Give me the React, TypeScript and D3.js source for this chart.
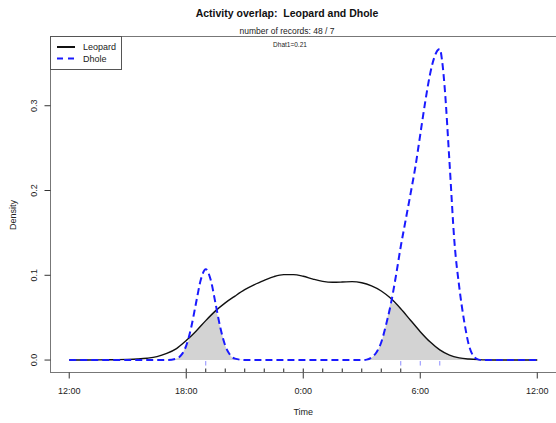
import React from 'react'
import * as d3 from 'd3'

// density curves (hours relative to midnight)
const leopardHours = [
  -12, -11.5, -11, -10.5, -10, -9.5, -9, -8.5, -8, -7.5, -7, -6.5, -6, -5.5, -5, -4.5, -4, -3.5, -3, -2.5,
  -2, -1.5, -1, -0.5, 0, 0.5, 1, 1.5, 2, 2.5, 3, 3.5, 4, 4.5, 5, 5.5, 6, 6.5, 7, 7.5, 8, 8.5, 9, 9.5, 10,
  10.5, 11, 11.5, 12,
]
const leopardDensity = [
  0, 0, 0.0001, 0.0002, 0.0003, 0.0005, 0.0008, 0.0013, 0.0022, 0.004, 0.0078, 0.0135, 0.023, 0.034, 0.0465,
  0.058, 0.0675, 0.0755, 0.083, 0.089, 0.094, 0.0985, 0.1008, 0.1008, 0.0988, 0.0955, 0.0928, 0.0917, 0.092,
  0.0925, 0.0912, 0.0875, 0.0815, 0.0725, 0.0605, 0.047, 0.0335, 0.0215, 0.012, 0.0058, 0.0026, 0.0012, 0.0005,
  0.0002, 0.0001, 0, 0, 0, 0,
]
const dholeHours = [
  -12, -7.5, -7, -6.5, -6.25, -6, -5.75, -5.5, -5.25, -5, -4.75, -4.5, -4.25, -4, -3.75, -3.5, -3, -2.5,
  2.5, 3, 3.25, 3.5, 3.75, 4, 4.25, 4.5, 4.75, 5, 5.25, 5.5, 5.75, 6, 6.25, 6.5, 6.75, 6.875, 7, 7.125,
  7.25, 7.5, 7.75, 8, 8.25, 8.5, 8.75, 9, 9.25, 9.75, 12,
]
const dholeDensity = [
  0, 0, 0, 0.0017, 0.006, 0.017, 0.038, 0.067, 0.095, 0.107, 0.095, 0.067, 0.038, 0.017, 0.006, 0.0017, 0, 0,
  0, 0, 0.0005, 0.003, 0.009, 0.021, 0.042, 0.067, 0.099, 0.134, 0.165, 0.196, 0.228, 0.266, 0.304, 0.337,
  0.359, 0.365, 0.367, 0.352, 0.322, 0.233, 0.14, 0.086, 0.046, 0.017, 0.004, 0.0005, 0, 0, 0,
]
const leopardRug = [-6, -5, -4, -3, -2, -1, 0, 1, 2, 3, 4, 5]
const dholeRug = [-5, 5, 6, 7]
const timeTicks = [-12, -6, 0, 6, 12]
const timeLabels = ['12:00', '18:00', '0:00', '6:00', '12:00']
const densityTicks = [0, 0.1, 0.2, 0.3]
const speciesNames = ['Leopard', 'Dhole']
const recordCounts = [48, 7]
const dhat1 = 0.21

const W = 556
const H = 423
const font = '"Liberation Sans", Arial, Helvetica, sans-serif'

export default function App() {
  const plot = { left: 50.5, right: 556, top: 36.5, bottom: 372.5 }

  const x = d3.scaleLinear().domain([-12.96, 12.96]).range([plot.left, plot.right])
  const ymax = d3.max([...leopardDensity, ...dholeDensity]) as number
  const pad = ymax * 0.04
  const y = d3.scaleLinear().domain([-pad, ymax + pad]).range([plot.bottom, plot.top])

  const leopardPts: [number, number][] = leopardHours.map((h, i) => [h, leopardDensity[i]])
  const dholePts: [number, number][] = dholeHours.map((h, i) => [h, dholeDensity[i]])

  const line = d3
    .line<[number, number]>()
    .x((d) => x(d[0]))
    .y((d) => y(d[1]))
    .curve(d3.curveMonotoneX)

  // overlap = min of the two curves
  const fL = d3.scaleLinear().domain(leopardHours).range(leopardDensity).clamp(true)
  const fD = d3.scaleLinear().domain(dholeHours).range(dholeDensity).clamp(true)
  const allHours = Array.from(new Set([...leopardHours, ...dholeHours])).sort((a, b) => a - b)
  const overlapPts: [number, number][] = allHours.map((h) => [h, Math.min(fL(h), fD(h))])
  const area = d3
    .area<[number, number]>()
    .x((d) => x(d[0]))
    .y0(y(0))
    .y1((d) => y(d[1]))
    .curve(d3.curveMonotoneX)

  const y0 = y(0)

  return (
    <svg
      width={W}
      height={H}
      style={{ position: 'absolute', left: 0, top: 0, background: '#fff' }}
      fontFamily={font}
    >
      <rect width={W} height={H} fill="#fff" />

      <path d={area(overlapPts) || ''} fill="#d3d3d3" stroke="none" />
      <path d={line(leopardPts) || ''} fill="none" stroke="#111" strokeWidth={1.4} />
      <path
        d={line(dholePts) || ''}
        fill="none"
        stroke="#1a1aff"
        strokeWidth={2}
        strokeDasharray="7,4"
      />

      {/* rugs */}
      {leopardRug.map((h) => (
        <line key={'lr' + h} x1={x(h)} x2={x(h)} y1={plot.bottom - 4} y2={plot.bottom} stroke="#222" />
      ))}
      {dholeRug.map((h) => (
        <line key={'dr' + h} x1={x(h)} x2={x(h)} y1={y0 + 1} y2={y0 + 5.5} stroke="#8c8cff" />
      ))}

      {/* box */}
      <rect
        x={plot.left}
        y={plot.top}
        width={plot.right + 10 - plot.left}
        height={plot.bottom - plot.top}
        fill="none"
        stroke="#777"
      />

      {/* x axis */}
      {timeTicks.map((t, i) => (
        <g key={'xt' + i}>
          <line x1={x(t)} x2={x(t)} y1={plot.bottom} y2={plot.bottom + 6} stroke="#333" />
          <text x={x(t)} y={393.5} fontSize={9} textAnchor="middle" fill="#222">
            {timeLabels[i]}
          </text>
        </g>
      ))}
      <text x={(plot.left + plot.right) / 2} y={415} fontSize={9} textAnchor="middle" fill="#222">
        Time
      </text>

      {/* y axis */}
      {densityTicks.map((t) => (
        <g key={'yt' + t}>
          <line x1={plot.left - 6} x2={plot.left} y1={y(t)} y2={y(t)} stroke="#333" />
          <text
            transform={`translate(36.5,${y(t)}) rotate(-90)`}
            fontSize={9}
            textAnchor="middle"
            fill="#222"
          >
            {t.toFixed(1)}
          </text>
        </g>
      ))}
      <text transform={`translate(15.5,215) rotate(-90)`} fontSize={9} textAnchor="middle" fill="#222">
        Density
      </text>

      {/* titles */}
      <text
        x={287}
        y={16.5}
        fontSize={10.5}
        fontWeight="bold"
        textAnchor="middle"
        fill="#111"
        style={{ whiteSpace: 'pre' }}
      >
        {`Activity overlap:  ${speciesNames[0]} and ${speciesNames[1]}`}
      </text>
      <text x={287} y={34.3} fontSize={8.5} textAnchor="middle" fill="#222">
        {`number of records: ${recordCounts[0]} / ${recordCounts[1]}`}
      </text>
      <text x={290} y={47.3} fontSize={6.5} textAnchor="middle" fill="#222">
        {`Dhat1=${dhat1}`}
      </text>

      {/* legend */}
      <rect x={50.5} y={36.5} width={71} height={33} fill="#fff" stroke="#555" />
      <line x1={57} x2={75} y1={47} y2={47} stroke="#111" strokeWidth={2} />
      <line x1={57} x2={75} y1={58.5} y2={58.5} stroke="#1a1aff" strokeWidth={2} strokeDasharray="6,5" />
      <text x={83} y={50.3} fontSize={9} fill="#222">
        {speciesNames[0]}
      </text>
      <text x={83} y={61.8} fontSize={9} fill="#222">
        {speciesNames[1]}
      </text>
    </svg>
  )
}
